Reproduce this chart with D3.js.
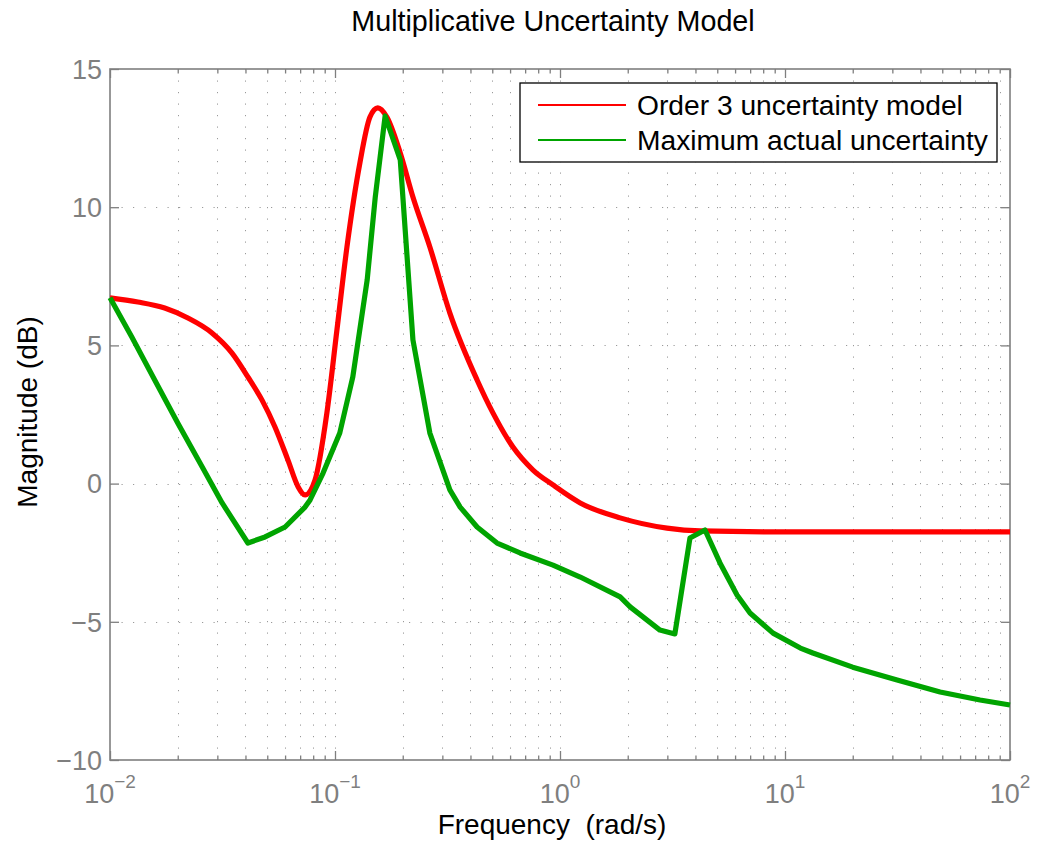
<!DOCTYPE html>
<html>
<head>
<meta charset="utf-8">
<script src="https://cdn.jsdelivr.net/npm/d3@7"></script>
<style>
  html, body { margin: 0; padding: 0; background: #fff; }
  svg { display: block; font-family: "Liberation Sans", Arial, Helvetica, sans-serif; }
</style>
</head>
<body>
<svg id="chart" width="1048" height="845"></svg>
<script>
// Frequency response magnitudes (rad/s, dB)
const modelFreq = [0.0100, 0.0133, 0.0175, 0.0222, 0.0284, 0.0348, 0.0410, 0.0474, 0.0541, 0.0618,
  0.0686, 0.0736, 0.0815, 0.0920, 0.102, 0.113, 0.129, 0.143, 0.155, 0.170, 0.195, 0.222, 0.264,
  0.324, 0.428, 0.504, 0.618, 0.759, 0.931, 1.23, 1.85, 2.99, 4.19, 11.7, 100];
const modelMag = [6.72, 6.57, 6.35, 5.99, 5.45, 4.73, 3.86, 3.02, 2.05, 0.85,
  -0.12, -0.41, 0.13, 2.55, 5.56, 8.56, 11.60, 13.26, 13.59, 13.26, 11.96, 10.37, 8.56,
  6.17, 3.75, 2.55, 1.32, 0.49, -0.05, -0.70, -1.24, -1.61, -1.71, -1.75, -1.75];

const actualFreq = [0.0100, 0.0125, 0.0158, 0.0200, 0.0257, 0.0315, 0.0410, 0.0489, 0.0600, 0.0736,
  0.0775, 0.0885, 0.105, 0.120, 0.139, 0.151, 0.167, 0.195, 0.222, 0.264, 0.324, 0.360, 0.428,
  0.525, 0.664, 0.931, 1.23, 1.85, 2.05, 2.78, 3.24, 3.78, 4.41, 5.14, 6.12, 6.99, 8.85, 11.7,
  13.3, 20.0, 31.5, 48.9, 73.6, 100];
const actualMag = [6.72, 5.30, 3.75, 2.19, 0.60, -0.70, -2.15, -1.93, -1.57, -0.85,
  -0.59, 0.38, 1.83, 3.86, 7.37, 10.37, 13.30, 11.71, 5.20, 1.83, -0.23, -0.85, -1.57,
  -2.15, -2.51, -2.95, -3.38, -4.10, -4.46, -5.30, -5.44, -1.97, -1.68, -2.87, -4.03, -4.68, -5.41, -5.95,
  -6.13, -6.64, -7.11, -7.54, -7.83, -8.01];

const seriesNames = ["Order 3 uncertainty model", "Maximum actual uncertainty"];
const xMajorTicks = [0.01, 0.1, 1, 10, 100];
const xTickExponents = ["\u22122", "\u22121", "0", "1", "2"];
const yTicks = [-10, -5, 0, 5, 10, 15];
const yTickLabels = ["\u221210", "\u22125", "0", "5", "10", "15"];

const svg = d3.select("#chart");
const plotLeft = 110, plotRight = 1010, plotTop = 69, plotBottom = 760;
const axisColor = "#7f7f7f";

const x = d3.scaleLog().domain([0.01, 100]).range([plotLeft, plotRight]);
const y = d3.scaleLinear().domain([-10, 15]).range([plotBottom, plotTop]);

// minor log ticks (2..9 per decade)
const xMinorTicks = [];
for (let e = -2; e < 2; e++) for (let k = 2; k <= 9; k++) xMinorTicks.push(k * Math.pow(10, e));

// dotted grid
const grid = svg.append("g").attr("stroke", "#9a9a9a").attr("stroke-width", 1)
  .attr("stroke-dasharray", "1.2,10.3");
grid.selectAll("line.gx").data(xMinorTicks.concat(xMajorTicks.slice(1, -1))).join("line")
  .attr("class", "gx")
  .attr("x1", d => Math.round(x(d)) + 0.5).attr("x2", d => Math.round(x(d)) + 0.5)
  .attr("y1", plotTop).attr("y2", plotBottom);
grid.selectAll("line.gy").data(yTicks.slice(1, -1)).join("line")
  .attr("class", "gy")
  .attr("x1", plotLeft).attr("x2", plotRight)
  .attr("y1", d => Math.round(y(d)) + 0.5).attr("y2", d => Math.round(y(d)) + 0.5);

// axes: ticks inward on all four sides
function styleAxis(g) {
  g.select(".domain").remove();
  g.selectAll("line").attr("stroke", axisColor).attr("stroke-width", 1.3);
}
svg.append("g").attr("transform", `translate(0,${plotBottom})`)
  .call(d3.axisBottom(x).tickValues(xMajorTicks).tickSize(-9).tickFormat("")).call(styleAxis);
svg.append("g").attr("transform", `translate(0,${plotBottom})`)
  .call(d3.axisBottom(x).tickValues(xMinorTicks).tickSize(-4.5).tickFormat("")).call(styleAxis);
svg.append("g").attr("transform", `translate(0,${plotTop})`)
  .call(d3.axisTop(x).tickValues(xMajorTicks).tickSize(-9).tickFormat("")).call(styleAxis);
svg.append("g").attr("transform", `translate(0,${plotTop})`)
  .call(d3.axisTop(x).tickValues(xMinorTicks).tickSize(-4.5).tickFormat("")).call(styleAxis);
svg.append("g").attr("transform", `translate(${plotLeft},0)`)
  .call(d3.axisLeft(y).tickValues(yTicks).tickSize(-9).tickFormat("")).call(styleAxis);
svg.append("g").attr("transform", `translate(${plotRight},0)`)
  .call(d3.axisRight(y).tickValues(yTicks).tickSize(-9).tickFormat("")).call(styleAxis);

// frame
svg.append("rect").attr("x", plotLeft).attr("y", plotTop)
  .attr("width", plotRight - plotLeft).attr("height", plotBottom - plotTop)
  .attr("fill", "none").attr("stroke", axisColor).attr("stroke-width", 1.6);

// y tick labels
svg.append("g").selectAll("text").data(yTicks).join("text")
  .attr("x", plotLeft - 8).attr("y", d => y(d)).attr("dy", "0.36em")
  .attr("text-anchor", "end").attr("font-size", 27).attr("fill", axisColor)
  .text((d, i) => yTickLabels[i]);

// x tick labels as powers of ten
const xl = svg.append("g").selectAll("text").data(xMajorTicks).join("text")
  .attr("x", d => x(d)).attr("y", 803).attr("text-anchor", "middle")
  .attr("font-size", 27).attr("fill", axisColor);
xl.append("tspan").text("10");
xl.append("tspan").attr("dy", -15).attr("font-size", 19).text((d, i) => xTickExponents[i]);

// curves: the fitted model is smooth, the measured envelope is piecewise
const colors = ["#ff0000", "#00a400"];
const curves = [d3.curveMonotoneX, d3.curveLinear];
const sets = [d3.zip(modelFreq, modelMag), d3.zip(actualFreq, actualMag)];
sets.forEach((pts, i) => {
  const line = d3.line().x(d => x(d[0])).y(d => y(d[1])).curve(curves[i]);
  svg.append("path").datum(pts).attr("d", line)
    .attr("fill", "none").attr("stroke", colors[i]).attr("stroke-width", 5.2)
    .attr("stroke-linejoin", "round").attr("stroke-linecap", "butt");
});

// legend
const lg = svg.append("g");
lg.append("rect").attr("x", 520).attr("y", 83).attr("width", 477).attr("height", 79)
  .attr("fill", "#fff").attr("stroke", "#000").attr("stroke-width", 1.3);
seriesNames.forEach((name, i) => {
  const ly = 105 + i * 35;
  lg.append("line").attr("x1", 538).attr("x2", 626).attr("y1", ly).attr("y2", ly)
    .attr("stroke", colors[i]).attr("stroke-width", 2);
  lg.append("text").attr("x", 637).attr("y", ly).attr("dy", "0.36em")
    .attr("font-size", 28.2).attr("fill", "#000").text(name);
});

// titles
svg.append("text").attr("x", 553).attr("y", 31).attr("text-anchor", "middle")
  .attr("font-size", 28.7).attr("fill", "#000").text("Multiplicative Uncertainty Model");
svg.append("text").attr("x", 552).attr("y", 834).attr("text-anchor", "middle")
  .attr("font-size", 28).attr("fill", "#000")
  .style("white-space", "pre").text("Frequency  (rad/s)");
svg.append("text").attr("transform", "translate(37,412) rotate(-90)").attr("text-anchor", "middle")
  .attr("font-size", 28).attr("fill", "#000").text("Magnitude (dB)");
</script>
</body>
</html>
